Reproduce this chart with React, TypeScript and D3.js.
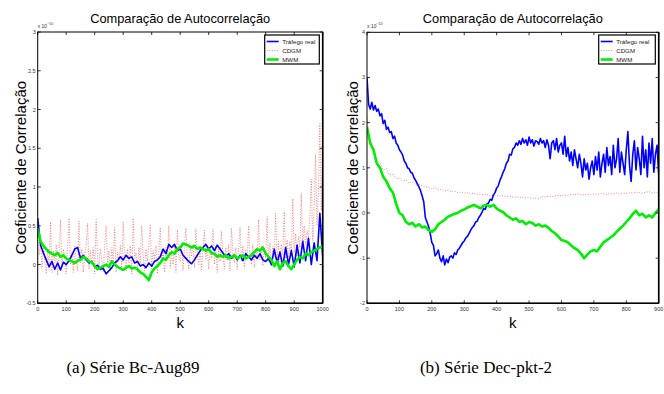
import React from 'react'
import * as d3 from 'd3'

const stepLeft = 10
const stepLeftCdgm = 5
const stepRight = 10
const stepRightTrafego = 5

// (a) Série Bc-Aug89, values in units of 1e-10
const leftTrafego = [
  0.6, 0.25, 0.15, 0.06, -0.03, 0.04, -0.06, 0.02, -0.07, 0.03,
  0.0, 0.05, 0.12, 0.2, 0.22, 0.08, 0.12, 0.06, 0.02, 0.04,
  -0.03, -0.01, -0.06, -0.05, -0.12, -0.08, -0.04, 0.02, 0.05, 0.1,
  0.06, 0.12, 0.08, 0.1, 0.02, 0.04, -0.02, 0.0, -0.04, 0.02,
  -0.02, 0.04, 0.06, 0.1, 0.2, 0.14, 0.26, 0.22, 0.26, 0.18,
  0.2, 0.12, 0.08, 0.04, 0.01, 0.06, 0.12, 0.18, 0.22, 0.26,
  0.2, 0.24, 0.18, 0.25, 0.2, 0.15, 0.1, 0.14, 0.08, 0.12,
  0.06, 0.12, 0.05, 0.14, 0.1, 0.06, 0.12, 0.08, 0.14, 0.06,
  0.04, 0.08, 0.0, 0.2, 0.02, 0.16, -0.02, 0.22, 0.0, 0.18,
  -0.03, 0.25, 0.02, 0.3, 0.05, 0.34, 0.0, 0.28, 0.05, 0.66,
  0.1
]

const leftCdgm = [
  0.42, 0.12, 0.3, -0.06, 0.24, 0.04, -0.12, 0.2, 0.0, 0.55,
  -0.1, 0.18, 0.02, 0.26, -0.14, 0.12, 0.58, -0.04, 0.2, 0.08,
  -0.12, 0.22, 0.6, 0.0, 0.16, -0.1, 0.24, 0.05, -0.08, 0.56,
  0.02, 0.2, -0.1, 0.14, 0.25, 0.53, -0.06, 0.18, 0.0, 0.22,
  -0.12, 0.58, 0.1, -0.05, 0.2, 0.04, -0.1, 0.24, 0.5, 0.02,
  0.18, -0.08, 0.22, 0.0, 0.48, -0.1, 0.16, 0.06, 0.25, -0.06,
  0.55, 0.1, -0.08, 0.2, 0.02, 0.24, -0.12, 0.6, 0.08, 0.15,
  -0.1, 0.22, 0.0, 0.5, 0.12, -0.08, 0.2, 0.04, 0.25, 0.52,
  -0.06, 0.18, 0.05, 0.24, -0.12, 0.16, 0.48, 0.02, 0.2, -0.1,
  0.22, 0.08, 0.5, -0.05, 0.18, 0.0, 0.26, -0.1, 0.45, 0.12,
  0.04, 0.24, -0.08, 0.2, 0.47, 0.06, -0.06, 0.22, 0.1, 0.26,
  -0.04, 0.46, 0.14, 0.0, 0.22, -0.08, 0.2, 0.44, 0.06, 0.25,
  -0.06, 0.18, 0.08, 0.46, 0.0, 0.24, -0.1, 0.2, 0.04, 0.43,
  0.1, -0.06, 0.22, 0.05, 0.26, -0.08, 0.47, 0.16, 0.02, 0.22,
  -0.06, 0.2, 0.48, 0.04, 0.24, -0.05, 0.18, 0.08, 0.5, 0.12,
  0.0, 0.26, -0.04, 0.2, 0.1, 0.58, 0.06, 0.24, -0.02, 0.22,
  0.08, 0.62, 0.04, 0.28, -0.02, 0.24, 0.1, 0.66, 0.06, 0.3,
  0.02, 0.26, 0.12, 0.68, 0.08, 0.32, 0.04, 0.3, 0.14, 0.85,
  0.16, 0.4, 0.1, 0.36, 0.22, 0.92, 0.2, 0.5, 0.26, 0.44,
  0.34, 0.62, 1.1, 0.3, 0.7, 1.42, 0.5, 0.95, 1.82, 0.7,
  1.3
]

const leftMwm = [
  0.46, 0.3, 0.24, 0.2, 0.16, 0.14, 0.12, 0.15, 0.1, 0.12,
  0.08, 0.06, 0.04, 0.02, 0.05, 0.06, 0.1, 0.08, 0.04, 0.03,
  -0.02, -0.06, -0.04, -0.02, 0.0, -0.03, 0.04, 0.0, -0.03, -0.05,
  -0.07, -0.04, -0.02, -0.05, -0.04, -0.06, -0.1, -0.12, -0.16, -0.2,
  -0.1, -0.05, -0.02, 0.02, 0.08, 0.06, 0.12, 0.16, 0.14, 0.2,
  0.22, 0.27, 0.26, 0.24, 0.22, 0.24, 0.2, 0.22, 0.2, 0.18,
  0.2, 0.15, 0.14, 0.1, 0.12, 0.1, 0.12, 0.08, 0.1, 0.12,
  0.08, 0.1, 0.12, 0.08, 0.1, 0.12, 0.16, 0.2, 0.18, 0.22,
  0.14, 0.1, 0.06, -0.02, 0.04, -0.06, 0.02, 0.04, -0.02, -0.06,
  0.0, 0.06, 0.1, 0.08, 0.14, 0.12, 0.16, 0.18, 0.2, 0.22,
  0.24
]

// (b) Série Dec-pkt-2
const rightTrafego = [
  3.0, 2.4, 2.3, 2.45, 2.28, 2.38, 2.25, 2.3, 2.15, 2.2,
  1.98, 2.05, 1.85, 1.9, 1.78, 1.8, 1.65, 1.7, 1.55, 1.5,
  1.4, 1.35, 1.28, 1.15, 1.1, 1.0, 0.98, 0.9, 0.88, 0.78,
  0.72, 0.65, 0.58, 0.5, 0.38, 0.25, -0.1, -0.2, -0.3, -0.45,
  -0.65, -0.72, -0.95, -0.9, -0.82, -1.0, -1.08, -0.95, -1.15, -1.02,
  -1.1, -0.98, -0.95, -1.0, -0.88, -0.92, -0.82, -0.78, -0.72, -0.66,
  -0.62, -0.55, -0.52, -0.45, -0.38, -0.32, -0.28, -0.2, -0.18, -0.1,
  -0.05, 0.02, 0.1, 0.08, 0.2, 0.22, 0.3, 0.28, 0.4, 0.45,
  0.55, 0.6, 0.72, 0.8, 0.9, 0.98, 1.1, 1.15, 1.3, 1.28,
  1.42, 1.45, 1.55, 1.5, 1.6, 1.52, 1.65, 1.55, 1.62, 1.5,
  1.68, 1.55, 1.62, 1.48, 1.6, 1.58, 1.52, 1.65, 1.55, 1.6,
  1.45, 1.62, 1.5, 1.2, 1.55, 1.6, 1.4, 1.65, 1.35, 1.5,
  1.55, 1.3, 1.7, 1.25, 1.45, 1.15, 1.35, 1.05, 1.4, 1.2,
  1.0, 1.3, 1.1, 0.8, 1.2, 0.95, 1.1, 0.75, 1.0, 1.15,
  0.85, 1.25, 0.95, 1.35, 0.8, 1.1, 1.3, 0.9, 1.45, 1.05,
  1.25, 0.85, 1.5, 1.0, 1.2, 1.65, 0.9, 1.35, 1.1, 0.85,
  1.4, 1.8, 1.05, 0.7, 1.3, 1.6, 0.95, 1.45, 1.2, 0.85,
  1.7, 1.0, 1.4, 0.8, 1.55, 1.1, 1.65, 0.9, 1.3, 1.5,
  0.85
]

const rightCdgm = [
  2.1, 1.45, 1.38, 1.15, 1.12, 0.95, 0.98, 0.84, 0.86, 0.76,
  0.78, 0.7, 0.73, 0.66, 0.69, 0.62, 0.64, 0.6, 0.58, 0.57,
  0.53, 0.56, 0.51, 0.52, 0.48, 0.5, 0.47, 0.49, 0.45, 0.46,
  0.44, 0.45, 0.42, 0.44, 0.41, 0.42, 0.4, 0.41, 0.38, 0.4,
  0.39, 0.37, 0.38, 0.36, 0.37, 0.35, 0.36, 0.34, 0.35, 0.33,
  0.34, 0.32, 0.33, 0.31, 0.36, 0.35, 0.37, 0.36, 0.38, 0.39,
  0.38, 0.4, 0.39, 0.41, 0.4, 0.42, 0.41, 0.4, 0.42, 0.41,
  0.42, 0.41, 0.43, 0.42, 0.41, 0.43, 0.42, 0.44, 0.43, 0.44,
  0.43, 0.45, 0.44, 0.46, 0.45, 0.44, 0.46, 0.47, 0.45, 0.46,
  0.45
]

const rightMwm = [
  1.9, 1.55, 1.4, 1.1, 1.0, 0.8, 0.7, 0.55, 0.45, 0.2,
  0.0, -0.05, -0.2, -0.25, -0.22, -0.3, -0.25, -0.32, -0.3, -0.38,
  -0.42, -0.36, -0.25, -0.2, -0.15, -0.08, -0.05, -0.02, 0.0, 0.05,
  0.08, 0.12, 0.15, 0.18, 0.14, 0.1, 0.16, 0.18, 0.14, 0.18,
  0.1, 0.05, 0.02, -0.05, -0.1, -0.15, -0.12, -0.2, -0.18, -0.25,
  -0.2, -0.22, -0.28, -0.25, -0.3, -0.28, -0.33, -0.4, -0.45, -0.52,
  -0.6, -0.62, -0.65, -0.72, -0.78, -0.82, -0.9, -1.0, -0.92, -0.85,
  -0.82, -0.85, -0.75, -0.65, -0.6, -0.55, -0.5, -0.42, -0.35, -0.28,
  -0.2, -0.12, -0.02, 0.05, -0.05, -0.02, -0.1, -0.05, -0.1, 0.0,
  0.08
]

const legendLabels = ['Tráfego real', 'CDGM', 'MWM']
const leftYTicks = [-0.5, 0, 0.5, 1, 1.5, 2, 2.5, 3]
const rightYTicks = [-2, -1, 0, 1, 2, 3, 4]
const leftXTicks = d3.range(0, 1001, 100)
const rightXTicks = d3.range(0, 901, 100)

const sans = 'Liberation Sans, Arial, sans-serif'
const colors = ['#0000ff', '#ff3030', '#00ee00']

const Panel = (props) => {
  const { id, box, xMax, yDomain, xTicks, yTicks, series, steps, ylabelX, legend } = props
  const [x0, x1, y0, y1] = box
  const x = d3.scaleLinear().domain([0, xMax]).range([x0, x1])
  const y = d3.scaleLinear().domain(yDomain).range([y1, y0])
  const cx = (x0 + x1) / 2

  const paths = series.map((vals, i) => {
    const line = d3.line().x((d, j) => x(j * steps[i])).y((d) => y(d))
    return line(vals)
  })

  const styles = [
    { stroke: colors[0], strokeWidth: 1.6 },
    { stroke: colors[1], strokeWidth: 0.8, strokeDasharray: '1 1.6', opacity: 0.75 },
    { stroke: colors[2], strokeWidth: 2.6 }
  ]
  const order = [1, 0, 2]

  return (
    <g>
      <defs>
        <clipPath id={id}>
          <rect x={x0} y={y0} width={x1 - x0} height={y1 - y0} />
        </clipPath>
      </defs>
      <text x={cx} y={23} textAnchor='middle' fontFamily={sans} fontSize={12.8}>
        Comparação de Autocorrelação
      </text>
      <text x={x0} y={28} fontFamily={sans} fontSize={5} fill='#333'>
        x 10<tspan dy={-3} fontSize={3.6}>−10</tspan>
      </text>
      <g clipPath={`url(#${id})`}>
        {order.map((i) => (
          <path key={i} d={paths[i]} fill='none' {...styles[i]} strokeLinejoin='round' />
        ))}
      </g>
      <rect x={x0} y={y0} width={x1 - x0} height={y1 - y0} fill='none' stroke='#000' strokeWidth={1} />
      <line x1={x1} x2={x1} y1={y0} y2={y1} stroke='#000' strokeWidth={1.6} />
      <line x1={x0} x2={x1} y1={y1} y2={y1} stroke='#000' strokeWidth={1.6} />
      {xTicks.map((t) => (
        <g key={'x' + t}>
          <line x1={x(t)} x2={x(t)} y1={y1} y2={y1 - 3} stroke='#000' strokeWidth={0.8} />
          <line x1={x(t)} x2={x(t)} y1={y0} y2={y0 + 3} stroke='#000' strokeWidth={0.8} />
          <text x={x(t)} y={y1 + 7.5} textAnchor='middle' fontFamily={sans} fontSize={5.5} fill='#333'>{t}</text>
        </g>
      ))}
      {yTicks.map((t) => (
        <g key={'y' + t}>
          <line x1={x0} x2={x0 + 3} y1={y(t)} y2={y(t)} stroke='#000' strokeWidth={0.8} />
          <line x1={x1} x2={x1 - 3} y1={y(t)} y2={y(t)} stroke='#000' strokeWidth={0.8} />
          <text x={x0 - 2} y={y(t) + 2} textAnchor='end' fontFamily={sans} fontSize={5.5} fill='#333'>{t}</text>
        </g>
      ))}
      <text x={cx} y={328} textAnchor='middle' fontFamily={sans} fontSize={15}>k</text>
      <text transform={`translate(${ylabelX},${(y0 + y1) / 2}) rotate(-90)`} textAnchor='middle' fontFamily={sans} fontSize={15}>
        Coeficiente de Correlação
      </text>
      <g>
        <rect x={legend[0]} y={35} width={legend[1]} height={29} fill='#fff' stroke='#000' strokeWidth={1.2} />
        {legendLabels.map((lab, i) => (
          <g key={lab}>
            <line x1={legend[0] + 2} x2={legend[0] + 14} y1={41.5 + i * 9} y2={41.5 + i * 9} fill='none' {...styles[i]} />
            <text x={legend[0] + 17.5} y={43.5 + i * 9} fontFamily={sans} fontSize={6.2} fill='#222'>{lab}</text>
          </g>
        ))}
      </g>
    </g>
  )
}

const App = () => {
  return (
    <div style={{ position: 'absolute', left: 0, top: 0 }}>
      <svg width={664} height={394} style={{ display: 'block', background: '#fff' }}>
        <Panel
          id='clipA'
          box={[37.7, 322.7, 32, 303.3]}
          xMax={1000}
          yDomain={[-0.5, 3]}
          xTicks={leftXTicks}
          yTicks={leftYTicks}
          series={[leftTrafego, leftCdgm, leftMwm]}
          steps={[stepLeft, stepLeftCdgm, stepLeft]}
          ylabelX={26}
          legend={[264.7, 54.6]}
        />
        <Panel
          id='clipB'
          box={[367, 658.7, 32.3, 303.3]}
          xMax={900}
          yDomain={[-2, 4]}
          xTicks={rightXTicks}
          yTicks={rightYTicks}
          series={[rightTrafego, rightCdgm, rightMwm]}
          steps={[stepRightTrafego, stepRight, stepRight]}
          ylabelX={358}
          legend={[598.7, 56.6]}
        />
        <text x={133} y={373} textAnchor='middle' fontFamily='Liberation Serif, Times New Roman, serif' fontSize={17}>
          (a) Série Bc-Aug89
        </text>
        <text x={486} y={373} textAnchor='middle' fontFamily='Liberation Serif, Times New Roman, serif' fontSize={17}>
          (b) Série Dec-pkt-2
        </text>
      </svg>
    </div>
  )
}

export default App
